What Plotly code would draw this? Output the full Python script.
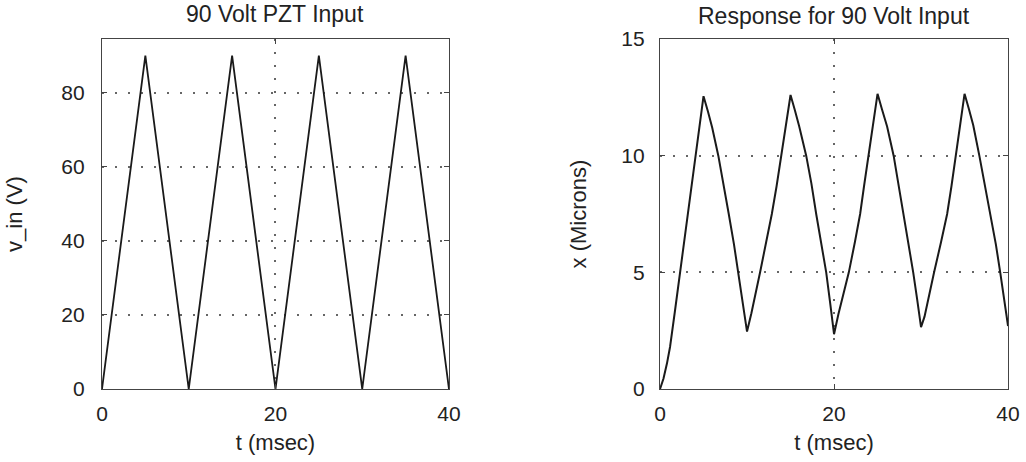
import plotly.graph_objects as go

# ---- data ----
t_in = [0, 5, 10, 15, 20, 25, 30, 35, 40]
v_in = [0, 90, 0, 90, 0, 90, 0, 90, 0]

t_resp = [0, 0.4, 0.8, 1.15, 1.7, 2.3, 3.2, 4.1, 4.6, 5.0,
          5.5, 6.0, 6.7, 7.3, 7.9, 8.5, 9.0, 9.5, 10.0,
          10.5, 11.0, 11.5, 12.2, 12.85, 13.4, 13.95, 14.5, 15.0,
          15.5, 16.0, 16.8, 17.4, 17.95, 18.55, 19.1, 19.55, 20.0,
          20.5, 21.1, 21.7, 22.4, 23.0, 23.45, 23.95, 24.5, 25.0,
          25.5, 26.1, 26.85, 27.4, 27.95, 28.6, 29.1, 29.55, 30.0,
          30.4, 30.9, 31.5, 32.3, 33.0, 33.5, 34.0, 34.5, 35.0,
          35.5, 36.0, 36.7, 37.3, 37.95, 38.6, 39.1, 39.55, 40.0]
x_resp = [0, 0.45, 1.1, 1.8, 3.3, 5.0, 7.5, 10.0, 11.3, 12.55,
          11.9, 11.2, 10.0, 8.8, 7.5, 6.2, 5.0, 3.75, 2.46,
          3.25, 4.1, 5.0, 6.3, 7.5, 8.7, 10.0, 11.3, 12.6,
          11.95, 11.25, 10.0, 8.8, 7.5, 6.2, 5.0, 3.7, 2.35,
          3.2, 4.1, 5.0, 6.3, 7.5, 8.7, 10.0, 11.35, 12.65,
          12.0, 11.25, 10.0, 8.8, 7.5, 6.2, 5.0, 3.85, 2.65,
          3.1, 4.0, 5.0, 6.3, 7.5, 8.7, 10.0, 11.35, 12.65,
          12.0, 11.3, 10.0, 8.8, 7.5, 6.2, 5.0, 3.85, 2.7]

titles = ["90 Volt PZT Input", "Response for 90 Volt Input"]
x_label = "t (msec)"
y_labels = ["v_in (V)", "x (Microns)"]
x_ticks = [0, 20, 40]
y_ticks_left = [0, 20, 40, 60, 80]
y_ticks_right = [0, 5, 10, 15]

FONT = "Liberation Sans, Arial, Helvetica, sans-serif"
INK = "#222222"

fig = go.Figure()
fig.add_trace(go.Scatter(x=t_in, y=v_in, mode="lines", xaxis="x", yaxis="y",
                         line=dict(color="#1a1a1a", width=1.8), showlegend=False))
fig.add_trace(go.Scatter(x=t_resp, y=x_resp, mode="lines", xaxis="x2", yaxis="y2",
                         line=dict(color="#1a1a1a", width=2.0),
                         showlegend=False))

axis_common = dict(
    showline=True, linecolor="#444444", linewidth=1.2, mirror="ticks",
    ticks="inside", ticklen=5, tickcolor="#444444",
    showgrid=True, gridcolor="#666666", griddash="2px,11px", gridwidth=1.5,
    zeroline=False, automargin=False,
    tickfont=dict(family=FONT, size=21, color=INK),
    title_font=dict(family=FONT, size=22, color=INK),
)

fig.update_layout(
    width=1026, height=462,
    margin=dict(l=0, r=0, t=0, b=0),
    paper_bgcolor="white", plot_bgcolor="white",
    xaxis=dict(domain=[0.0994, 0.4376], range=[0, 40], tickvals=x_ticks,
               title=dict(text=x_label, standoff=10), ticklabelstandoff=6,
               anchor="y", **axis_common),
    yaxis=dict(domain=[0.158, 0.9156], range=[0, 94.5], tickvals=y_ticks_left,
               title=dict(text=y_labels[0], standoff=32), ticklabelstandoff=12,
               anchor="x", **axis_common),
    xaxis2=dict(domain=[0.6433, 0.9825], range=[0, 40], tickvals=x_ticks,
                title=dict(text=x_label, standoff=10), ticklabelstandoff=6,
                anchor="y2", **axis_common),
    yaxis2=dict(domain=[0.158, 0.9156], range=[0, 15], tickvals=y_ticks_right,
                title=dict(text=y_labels[1], standoff=28), ticklabelstandoff=10,
                anchor="x2", **axis_common),
    annotations=[
        dict(text=titles[0], x=(0.0994 + 0.4376) / 2, y=0.97, xref="paper", yref="paper",
             showarrow=False, xanchor="center", yanchor="middle",
             font=dict(family=FONT, size=23, color=INK)),
        dict(text=titles[1], x=(0.6433 + 0.9825) / 2, y=0.965, xref="paper", yref="paper",
             showarrow=False, xanchor="center", yanchor="middle",
             font=dict(family=FONT, size=23, color=INK)),
    ],
)

fig.write_html("out.html")
